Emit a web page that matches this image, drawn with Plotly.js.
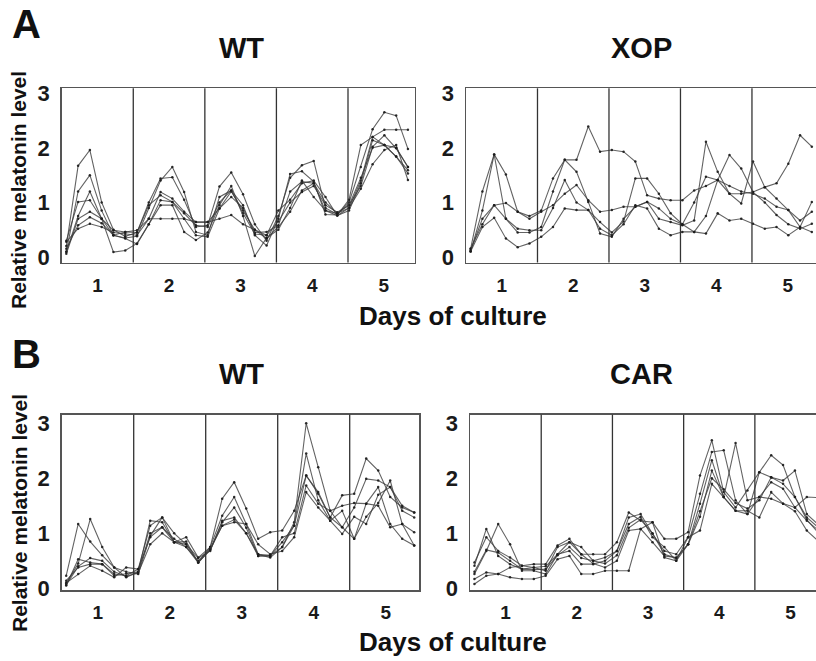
<!DOCTYPE html>
<html>
<head>
<meta charset="utf-8">
<script src="https://cdn.plot.ly/plotly-3.0.1.min.js"></script>
<style>html,body{margin:0;padding:0;background:#fff;}#chart{width:816px;height:661px;}</style>
</head>
<body>
<div id="chart"></div>
<script>
// Sampling times (hours of culture)
const hoursA = [1.55, 5.5, 9.45, 13.4, 17.35, 21.3, 25.25, 29.2, 33.15, 37.1, 41.05, 45.0, 48.95, 52.9, 56.85, 60.8, 64.75, 68.7, 72.65, 76.6, 80.55, 84.5, 88.45, 92.4, 96.35, 100.3, 104.25, 108.2, 112.15, 116.1];
const hoursB = [1.5, 5.5, 9.5, 13.5, 17.5, 21.5, 25.5, 29.5, 33.5, 37.5, 41.5, 45.5, 49.5, 53.5, 57.5, 61.5, 65.5, 69.5, 73.5, 77.5, 81.5, 85.5, 89.5, 93.5, 97.5, 101.5, 105.5, 109.5, 113.5, 117.5];

const dayTickPos = [12, 36, 60, 84, 108];
const dayTickText = ["1", "2", "3", "4", "5"];
const dayBoundaries = [24, 48, 72, 96];
const yTickVals = [0, 1, 2, 3];

// Panel A, WT
const wtA1 = [0.20, 1.67, 1.96, 1.00, 0.50, 0.38, 0.45, 1.00, 1.44, 1.46, 1.05, 0.55, 0.58, 1.29, 1.55, 1.15, 0.60, 0.30, 0.75, 1.45, 1.68, 1.76, 0.90, 0.78, 1.00, 1.65, 2.34, 2.65, 2.59, 1.98];
const wtA2 = [0.10, 1.20, 1.50, 0.85, 0.40, 0.35, 0.38, 0.90, 1.40, 1.65, 1.19, 0.46, 0.40, 1.10, 1.22, 0.95, 0.40, 0.21, 0.70, 1.52, 1.57, 1.38, 0.78, 0.77, 1.05, 2.05, 2.20, 2.33, 2.33, 2.33];
const wtA3 = [0.30, 1.01, 1.04, 0.70, 0.40, 0.46, 0.49, 0.70, 1.19, 1.07, 0.83, 0.64, 0.64, 0.89, 1.10, 0.90, 0.45, 0.46, 0.58, 1.20, 1.38, 1.35, 1.00, 0.80, 0.90, 1.40, 2.20, 2.05, 1.84, 1.59];
const wtA4 = [0.06, 0.70, 0.83, 0.70, 0.49, 0.46, 0.45, 0.95, 1.13, 1.01, 0.70, 0.40, 0.37, 0.89, 1.20, 0.85, 0.50, 0.40, 0.65, 1.00, 1.19, 1.30, 0.95, 0.82, 0.95, 1.30, 2.02, 2.23, 1.99, 1.65];
const wtA5 = [0.15, 0.58, 0.73, 0.62, 0.40, 0.34, 0.24, 0.60, 1.04, 1.01, 0.80, 0.58, 0.55, 1.00, 1.22, 0.80, 0.42, 0.40, 0.85, 1.05, 1.35, 1.40, 1.10, 0.76, 0.85, 1.35, 2.14, 2.05, 1.84, 1.53];
const wtA6 = [0.28, 0.52, 0.61, 0.55, 0.45, 0.42, 0.40, 0.70, 0.70, 0.70, 0.70, 0.64, 0.64, 0.70, 0.77, 0.60, 0.50, 0.34, 0.55, 0.83, 1.22, 1.35, 0.85, 0.76, 0.90, 1.25, 1.70, 1.96, 2.05, 1.41];
const wtA7 = [0.09, 0.75, 1.20, 0.70, 0.09, 0.12, 0.25, 0.60, 0.95, 0.95, 0.46, 0.31, 0.45, 0.95, 1.30, 0.75, 0.02, 0.35, 0.50, 0.90, 1.40, 1.10, 0.85, 0.80, 0.95, 1.45, 2.00, 2.05, 2.00, 1.65];

// Panel A, XOP
const xop1 = [0.15, 1.20, 1.88, 1.51, 0.83, 0.75, 0.85, 1.44, 1.78, 1.78, 2.39, 1.93, 1.96, 1.93, 1.75, 1.13, 1.07, 1.04, 1.04, 1.22, 1.30, 1.41, 1.16, 1.16, 1.19, 1.28, 1.35, 1.71, 2.23, 2.02];
const xop2 = [0.10, 0.85, 1.88, 0.70, 0.45, 0.45, 0.55, 1.20, 1.78, 1.56, 1.01, 0.43, 0.37, 0.70, 0.92, 1.01, 0.70, 0.64, 0.58, 0.67, 2.11, 1.56, 1.16, 0.98, 1.75, 1.28, 1.07, 0.86, 0.67, 0.83];
const xop3 = [0.12, 0.70, 0.95, 0.99, 0.83, 0.70, 0.83, 0.95, 1.16, 1.32, 1.04, 0.83, 0.86, 0.92, 0.92, 1.01, 0.89, 0.70, 0.60, 1.00, 1.47, 1.41, 1.30, 1.20, 1.16, 1.07, 0.92, 0.86, 0.55, 1.01];
const xop4 = [0.15, 0.60, 0.95, 0.70, 0.52, 0.49, 0.49, 0.90, 1.41, 1.00, 0.86, 0.64, 0.45, 0.65, 1.44, 1.44, 1.16, 0.80, 0.60, 0.46, 0.75, 1.41, 1.87, 1.62, 1.19, 1.00, 0.77, 0.60, 0.52, 0.61];
const xop5 = [0.10, 0.55, 0.72, 0.34, 0.18, 0.25, 0.37, 0.55, 0.89, 0.86, 0.86, 0.52, 0.40, 0.60, 0.95, 0.89, 0.52, 0.40, 0.46, 0.46, 0.43, 0.80, 0.67, 0.70, 0.61, 0.52, 0.55, 0.40, 0.55, 0.46];

// Panel B, WT
const wtB1 = [0.23, 1.17, 0.85, 0.60, 0.38, 0.30, 0.26, 0.95, 1.29, 0.84, 0.93, 0.56, 0.75, 1.63, 1.93, 1.45, 0.90, 1.02, 1.05, 1.41, 2.05, 1.72, 1.29, 1.69, 1.72, 2.36, 2.14, 1.66, 1.47, 1.38];
const wtB2 = [0.09, 0.45, 1.26, 0.75, 0.38, 0.20, 0.30, 1.23, 1.20, 0.84, 0.75, 0.47, 0.75, 1.32, 1.66, 1.17, 0.62, 0.56, 0.75, 1.20, 3.00, 2.20, 1.41, 1.11, 1.47, 1.99, 1.96, 1.84, 1.41, 1.29];
const wtB3 = [0.05, 0.53, 0.47, 0.44, 0.26, 0.23, 0.35, 1.14, 1.29, 1.00, 0.80, 0.55, 0.68, 1.23, 1.29, 1.00, 0.59, 0.59, 0.84, 1.14, 2.45, 1.60, 1.23, 1.41, 0.90, 1.54, 1.84, 1.17, 0.90, 0.78];
const wtB4 = [0.14, 0.38, 0.44, 0.44, 0.23, 0.27, 0.30, 1.00, 1.11, 0.84, 0.80, 0.47, 0.70, 1.20, 1.47, 1.10, 0.59, 0.59, 0.93, 1.00, 1.87, 1.54, 1.41, 1.50, 1.55, 1.54, 1.50, 1.11, 1.17, 1.02];
const wtB5 = [0.10, 0.26, 0.41, 0.32, 0.20, 0.38, 0.35, 0.93, 1.11, 0.90, 0.75, 0.50, 0.72, 1.14, 1.20, 1.17, 0.80, 0.62, 0.68, 0.93, 1.75, 1.47, 1.23, 0.99, 1.30, 1.17, 1.70, 1.84, 1.50, 1.38];
const wtB6 = [0.06, 0.40, 0.55, 0.50, 0.30, 0.22, 0.28, 0.80, 1.00, 0.84, 0.85, 0.47, 0.70, 1.14, 1.25, 1.00, 0.62, 0.60, 0.75, 1.14, 2.05, 1.75, 1.29, 1.11, 0.90, 1.30, 1.55, 1.96, 1.17, 0.78];

// Panel B, CAR
const car1 = [0.47, 0.93, 0.68, 0.56, 0.41, 0.44, 0.44, 0.78, 0.90, 0.62, 0.62, 0.62, 0.84, 1.38, 1.23, 1.20, 0.90, 0.90, 1.02, 2.05, 2.69, 1.75, 1.47, 1.78, 2.11, 2.02, 1.96, 2.14, 1.35, 1.15];
const car2 = [0.41, 1.08, 0.59, 0.44, 0.35, 0.38, 0.32, 0.75, 0.84, 0.75, 0.50, 0.56, 0.68, 1.29, 1.35, 0.99, 0.68, 0.62, 0.93, 1.72, 2.48, 2.51, 1.60, 1.35, 2.11, 2.42, 2.24, 1.66, 1.29, 1.10];
const car3 = [0.26, 0.68, 1.17, 0.80, 0.32, 0.32, 0.26, 0.62, 0.68, 0.44, 0.44, 0.50, 0.68, 1.17, 1.30, 0.93, 0.75, 0.50, 0.80, 1.54, 2.33, 1.66, 2.64, 1.60, 1.66, 1.93, 1.81, 1.47, 1.23, 1.05];
const car4 = [0.17, 0.29, 0.26, 0.38, 0.41, 0.38, 0.40, 0.62, 0.84, 0.62, 0.45, 0.38, 0.50, 1.05, 1.08, 0.84, 0.59, 0.56, 0.80, 1.30, 2.14, 1.66, 1.41, 1.41, 1.29, 1.75, 1.54, 1.47, 1.66, 1.65];
const car5 = [0.08, 0.23, 0.26, 0.20, 0.17, 0.17, 0.23, 0.53, 0.59, 0.26, 0.26, 0.32, 0.32, 0.32, 1.08, 1.20, 0.56, 0.50, 0.93, 1.05, 1.90, 1.66, 1.41, 1.35, 1.66, 1.63, 1.54, 1.40, 1.05, 0.85];
const car6 = [0.30, 0.70, 0.65, 0.50, 0.35, 0.34, 0.35, 0.60, 0.75, 0.55, 0.50, 0.45, 0.60, 1.10, 1.25, 1.00, 0.62, 0.55, 0.80, 1.40, 2.00, 1.80, 1.55, 1.45, 1.60, 2.02, 1.90, 1.66, 1.25, 1.00];

const panels = [
  {xa: 'x',  ya: 'y',  hours: hoursA, series: [wtA1, wtA2, wtA3, wtA4, wtA5, wtA6, wtA7]},
  {xa: 'x2', ya: 'y2', hours: hoursA, series: [xop1, xop2, xop3, xop4, xop5]},
  {xa: 'x3', ya: 'y3', hours: hoursB, series: [wtB1, wtB2, wtB3, wtB4, wtB5, wtB6]},
  {xa: 'x4', ya: 'y4', hours: hoursB, series: [car1, car2, car3, car4, car5, car6]}
];

const traces = [];
panels.forEach(p => {
  p.series.forEach(s => {
    traces.push({
      x: p.hours, y: s, xaxis: p.xa, yaxis: p.ya,
      type: 'scatter', mode: 'lines+markers',
      line: {color: 'rgba(60,60,60,0.8)', width: 1.1},
      marker: {size: 2.5, color: 'rgba(25,25,25,0.9)'},
      showlegend: false, hoverinfo: 'skip'
    });
  });
});

const W = 816, H = 661;
const tickFont = {family: 'Liberation Sans, Arial, sans-serif', size: 19, color: '#1a1a1a', weight: 'bold'};
function xax(left, right, rmax, anchor) {
  return {
    anchor: anchor,
    domain: [left / W, right / W], range: [0, rmax],
    tickvals: dayTickPos, ticktext: dayTickText, ticks: '', ticklabelstandoff: 5,
    tickfont: tickFont, showgrid: false, zeroline: false,
    showline: true, mirror: true, linecolor: '#555', linewidth: 1.5, fixedrange: true
  };
}
function yax(top, bottom, rng, mirror, anchor) {
  return {
    anchor: anchor,
    domain: [1 - bottom / H, 1 - top / H], range: rng,
    tickvals: yTickVals, ticks: '', ticklabelstandoff: 6,
    tickfont: {family: 'Liberation Sans, Arial, sans-serif', size: 22, color: '#1a1a1a', weight: 'bold'},
    showgrid: false, zeroline: false,
    showline: true, mirror: mirror, linecolor: '#555', linewidth: 1.5, fixedrange: true
  };
}

const shapes = [];
['x', 'x2', 'x3', 'x4'].forEach((xa, i) => {
  const ya = ['y', 'y2', 'y3', 'y4'][i];
  dayBoundaries.forEach(b => {
    shapes.push({type: 'line', xref: xa, yref: ya + ' domain', x0: b, x1: b, y0: 0, y1: 1,
      line: {color: '#333', width: 1.3}});
  });
});

const titleFont = {family: 'Liberation Sans, Arial, sans-serif', size: 29, color: '#111', weight: 'bold'};
const axTitleFont = {family: 'Liberation Sans, Arial, sans-serif', size: 26, color: '#111', weight: 'bold'};
const yTitleFont = {family: 'Liberation Sans, Arial, sans-serif', size: 21, color: '#111', weight: 'bold'};
function ann(text, px, py, font, extra) {
  return Object.assign({text: text, x: px / W, y: 1 - py / H, xref: 'paper', yref: 'paper',
    showarrow: false, font: font, xanchor: 'center', yanchor: 'middle'}, extra || {});
}
const letterFont = {family: 'Liberation Sans, Arial, sans-serif', size: 40, color: '#111', weight: 'bold'};
const annotations = [
  ann('A', 26, 24, letterFont),
  ann('B', 26, 354, letterFont),
  ann('WT', 241, 48, titleFont),
  ann('XOP', 641, 48, titleFont),
  ann('WT', 241, 374, titleFont),
  ann('CAR', 641, 374, titleFont),
  ann('Days of culture', 453, 316, axTitleFont),
  ann('Days of culture', 453, 642, axTitleFont),
  ann('Relative melatonin level', 19, 190, yTitleFont, {textangle: -90}),
  ann('Relative melatonin level', 19, 513, yTitleFont, {textangle: -90})
];

const layout = {
  width: W, height: H, margin: {l: 0, r: 0, t: 0, b: 0},
  paper_bgcolor: '#fff', plot_bgcolor: '#fff', showlegend: false,
  xaxis: xax(61.7, 414.5, 118.3, 'y'),
  xaxis2: xax(466, 816, 117.5, 'y2'),
  xaxis3: xax(61.7, 419.3, 119.2, 'y3'),
  xaxis4: xax(470, 816, 116.6, 'y4'),
  yaxis: yax(88.3, 262.5, [-0.1, 3.09], true, 'x'),
  yaxis2: yax(88.3, 262.5, [-0.1, 3.09], false, 'x2'),
  yaxis3: yax(414.5, 590, [-0.03, 3.16], true, 'x3'),
  yaxis4: yax(414.5, 590, [-0.03, 3.16], false, 'x4'),
  shapes: shapes, annotations: annotations
};

Plotly.newPlot('chart', traces, layout, {staticPlot: true, displayModeBar: false});
</script>
</body>
</html>
